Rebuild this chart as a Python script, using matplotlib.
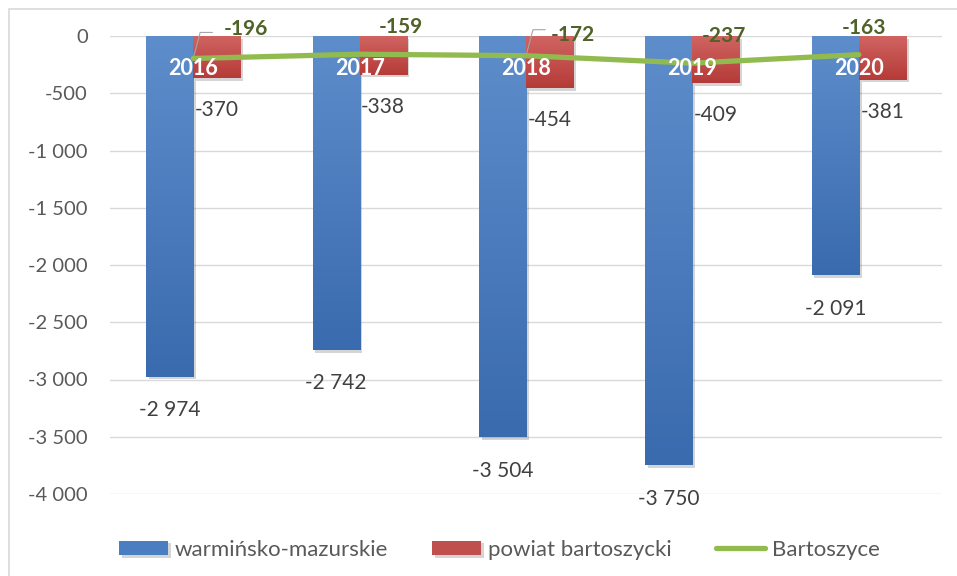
import numpy as np
import matplotlib as mpl
mpl.use('Agg')
import matplotlib.pyplot as plt
import matplotlib.patheffects as pe
from matplotlib.patches import Rectangle
from matplotlib.ticker import FuncFormatter

years = ['2016', '2017', '2018', '2019', '2020']
wojewodztwo = [-2974, -2742, -3504, -3750, -2091]
powiat = [-370, -338, -454, -409, -381]
miasto = [-196, -159, -172, -237, -163]

series_names = ['warmińsko-mazurskie', 'powiat bartoszycki', 'Bartoszyce']

# label offsets for the city line (pixels, right / up)
city_offsets = [(53, 29), (41, 27), (47, 21), (32, 27), (5, 27)]

def fmt(v):
	return f'{v:,.0f}'.replace(',', ' ')

def gradient_bars(ax, bars, c_top, c_bot):
	grad = np.linspace(0, 1, 64).reshape(-1, 1)
	c1 = np.array(mpl.colors.to_rgb(c_top))
	c2 = np.array(mpl.colors.to_rgb(c_bot))
	img = c1 + (c2 - c1) * grad[..., None]
	for b in bars:
		x0, y0 = b.get_x(), b.get_y()
		w, h = b.get_width(), b.get_height()
		im = ax.imshow(img, extent=[x0, x0 + w, y0 + h, y0], aspect='auto',
			zorder=b.get_zorder() + 0.1, interpolation='bilinear')
		im.set_clip_path(b)

plt.rcParams['font.family'] = ['Lato', 'DejaVu Sans']

fig = plt.figure(figsize=(9.57, 5.76), dpi=100)
ax = fig.add_axes([110/957, 82/576, 832/957, 458/576])

x = np.arange(len(years))
w = 0.283

shadow = [pe.SimplePatchShadow(offset=(2, -2), alpha=0.22, shadow_rgbFace='#404040'), pe.Normal()]
b1 = ax.bar(x - w/2, wojewodztwo, w, color='#4A7EC0', zorder=2, label=series_names[0],
	path_effects=shadow)
b2 = ax.bar(x + w/2, powiat, w, color='#C0504D', zorder=2, label=series_names[1],
	path_effects=shadow)
gradient_bars(ax, b1, '#5E8DCB', '#3A6BAE')
gradient_bars(ax, b2, '#D06461', '#B53B38')

ln, = ax.plot(x, miasto, color='#92BB4F', lw=3.8, zorder=4, label=series_names[2],
	solid_capstyle='round')

ax.set_xlim(-0.5, len(years) - 0.5)
ax.set_ylim(-4000, 0)
ax.set_yticks(np.arange(-4000, 1, 500))
ax.yaxis.set_major_formatter(FuncFormatter(lambda v, p: fmt(v)))
ax.tick_params(axis='y', length=0, labelsize=14.5, labelcolor='#595959', pad=16)
ax.set_xticks([])
ax.grid(axis='y', color='#D9D9D9', lw=1)
ax.set_axisbelow(True)
for s in ax.spines.values():
	s.set_visible(False)

# year labels on the bars
for i, yr in enumerate(years):
	ax.text(i, -280, yr, color='white', fontsize=15.5, fontweight='bold',
		ha='center', va='center', zorder=6)

# data labels
for b, v in zip(b1, wojewodztwo):
	ax.annotate(fmt(v), (b.get_x() + b.get_width()/2, v), xytext=(0, -24),
		textcoords='offset points', ha='center', va='center', fontsize=15,
		color='#404040', annotation_clip=False)
for b, v in zip(b2, powiat):
	ax.annotate(fmt(v), (b.get_x() + b.get_width()/2, v), xytext=(0, -23),
		textcoords='offset points', ha='center', va='center', fontsize=15,
		color='#404040', annotation_clip=False)
for i, (v, off) in enumerate(zip(miasto, city_offsets)):
	ax.annotate(fmt(v), (i, v), xytext=(off[0]*0.72, off[1]*0.72),
		textcoords='offset points', ha='center', va='center', fontsize=15,
		fontweight='bold', color='#4F6228', annotation_clip=False, zorder=7)
# leader lines
for i in (0, 2):
	ax.annotate('', (i, miasto[i]), xytext=(22*0.72, 26*0.72), textcoords='offset points',
		arrowprops=dict(arrowstyle='-', color='#A6A6A6', lw=0.8,
			connectionstyle='angle,angleA=0,angleB=75,rad=0'),
		annotation_clip=False, zorder=5)

leg = ax.legend([b1, b2, ln], series_names, loc='upper left', bbox_to_anchor=(0, -0.08),
	ncol=3, frameon=False, fontsize=16, labelcolor='#595959', handlelength=2.2,
	handleheight=0.6, columnspacing=2.0, handletextpad=0.3, borderaxespad=0)

# chart area border
fig.patches.append(Rectangle((9/957, -0.1), 1.2, 1.1 - 9/576, transform=fig.transFigure,
	fill=False, edgecolor='#D9D9D9', lw=1.2))

fig.savefig('out.png', dpi=100)
